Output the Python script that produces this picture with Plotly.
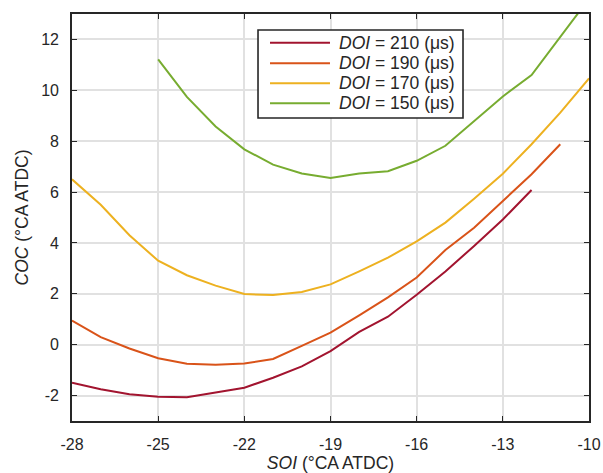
import plotly.graph_objects as go

# Start of injection (SOI, °CA ATDC) for each dwell (DOI) setting
soi_210 = list(range(-28, -11))
soi_190 = list(range(-28, -10))
soi_170 = list(range(-28, -9))
soi_150 = list(range(-25, -9))

# Centre of combustion (COC, °CA ATDC)
coc_210 = [-1.5, -1.75, -1.95, -2.05, -2.07, -1.89, -1.69, -1.3, -0.85, -0.25, 0.5,
           1.1, 1.96, 2.88, 3.88, 4.92, 6.08]
coc_190 = [0.95, 0.3, -0.15, -0.53, -0.75, -0.79, -0.74, -0.56, -0.05, 0.47, 1.15,
           1.86, 2.64, 3.72, 4.6, 5.63, 6.7, 7.88]
coc_170 = [6.5, 5.5, 4.3, 3.3, 2.73, 2.32, 1.99, 1.95, 2.07, 2.37, 2.88,
           3.42, 4.06, 4.8, 5.74, 6.72, 7.88, 9.12, 10.47]
coc_150 = [11.22, 9.74, 8.58, 7.68, 7.08, 6.73, 6.55, 6.73, 6.82, 7.23, 7.82,
           8.78, 9.76, 10.6, 12.08, 13.6]

doi_labels = ["210", "190", "170", "150"]
colors = ["#A2142F", "#D95319", "#EDB120", "#77AC30"]

x_ticks = [-28, -25, -22, -19, -16, -13, -10]
y_ticks = [-2, 0, 2, 4, 6, 8, 10, 12]

FONT = "Liberation Sans, Arial, Helvetica, sans-serif"
INK = "#262626"

fig = go.Figure()
for xs, ys, lab, col in zip([soi_210, soi_190, soi_170, soi_150],
                            [coc_210, coc_190, coc_170, coc_150],
                            doi_labels, colors):
    fig.add_trace(go.Scatter(
        x=xs, y=ys, mode="lines",
        line=dict(color=col, width=2),
        name=f"<i>DOI</i> = {lab} (\u03bcs)",
        showlegend=False,
    ))

axis_common = dict(
    showline=True, linecolor=INK, linewidth=1.6, mirror="ticks",
    ticks="inside", ticklen=5, tickwidth=1.2, tickcolor=INK,
    showgrid=True, gridcolor="#e1e1e1", gridwidth=1.5,
    zeroline=False, automargin=False,
    tickfont=dict(family=FONT, size=16, color=INK),
    ticklabelstandoff=8,
)

fig.update_xaxes(
    range=[-28, -10], tickvals=x_ticks, ticktext=[str(v) for v in x_ticks],
    title=dict(text="<i>SOI</i> (°CA ATDC)", font=dict(family=FONT, size=17.5, color=INK),
               standoff=4),
    **axis_common,
)
fig.update_yaxes(
    range=[-3, 13], tickvals=y_ticks, ticktext=[str(v) for v in y_ticks],
    title=dict(text="<i>COC</i> (°CA ATDC)", font=dict(family=FONT, size=17.5, color=INK),
               standoff=8),
    **axis_common,
)

# Legend box drawn in axes-fraction coordinates
legend_box = dict(x0=0.3598, x1=0.7563, y0=0.7445, y1=0.9607)
row_y = [0.9295, 0.8789, 0.8297, 0.7806]
sample_x = (0.383, 0.499)
text_x = 0.512

shapes = [dict(type="rect", xref="paper", yref="paper", **legend_box,
               line=dict(color=INK, width=1.6), fillcolor="white", layer="above")]
annotations = []
for yy, lab, col in zip(row_y, doi_labels, colors):
    shapes.append(dict(type="line", xref="paper", yref="paper",
                       x0=sample_x[0], x1=sample_x[1], y0=yy, y1=yy,
                       line=dict(color=col, width=2), layer="above"))
    annotations.append(dict(xref="paper", yref="paper", x=text_x, y=yy,
                            xanchor="left", yanchor="middle", showarrow=False,
                            text=f"<i>DOI</i> = {lab} (\u03bcs)",
                            font=dict(family=FONT, size=17.5, color=INK)))

fig.update_layout(
    width=603, height=473,
    margin=dict(l=72, r=14, t=14, b=52),
    paper_bgcolor="white", plot_bgcolor="white",
    showlegend=False,
    shapes=shapes, annotations=annotations,
)

fig.write_html("out.html")
